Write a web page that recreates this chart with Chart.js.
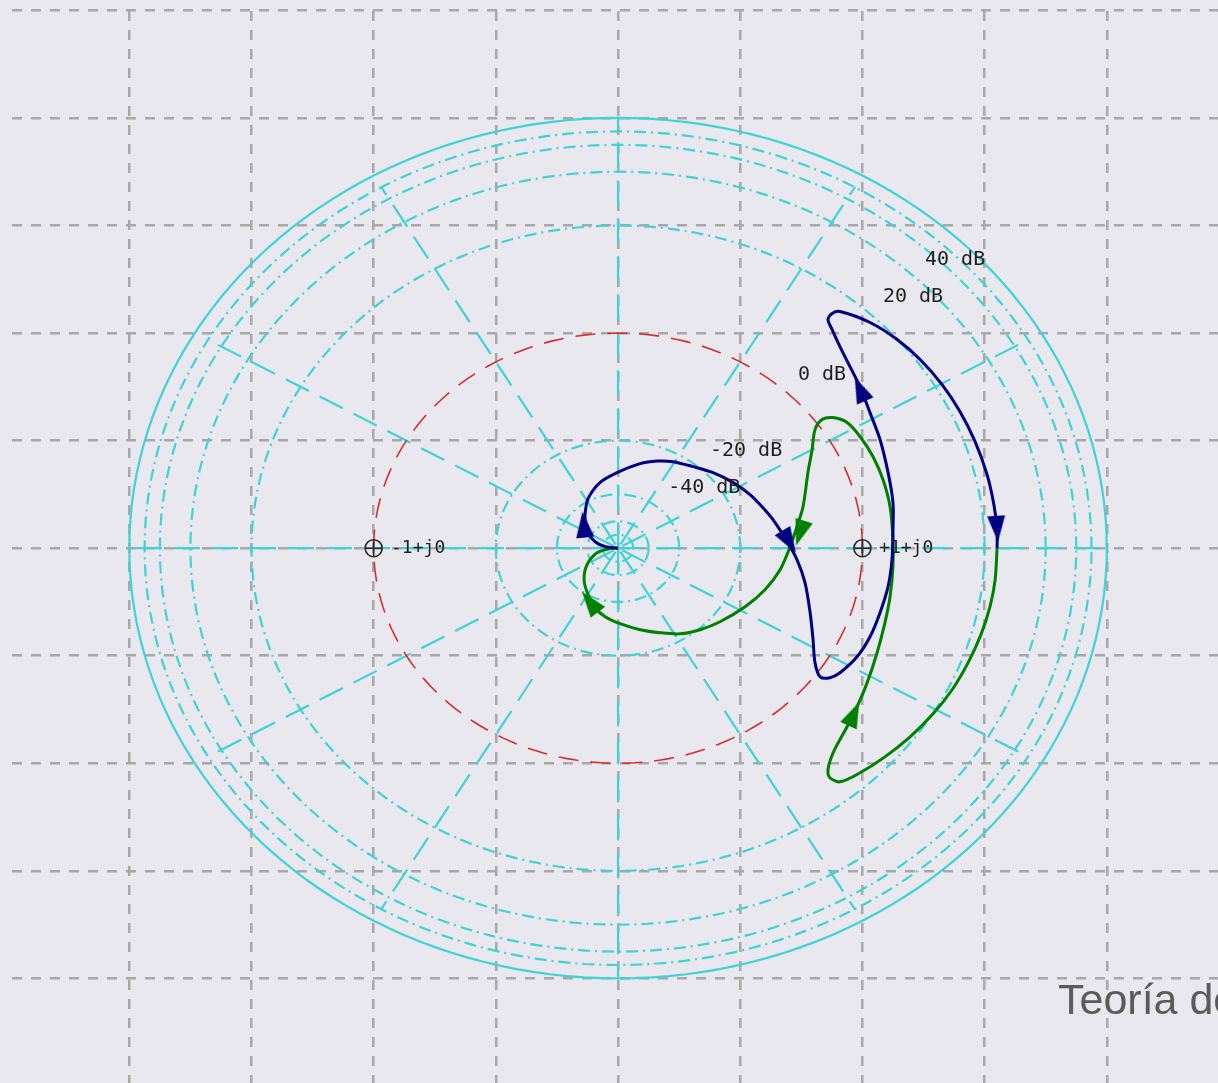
<!DOCTYPE html>
<html>
<head>
<meta charset="utf-8">
<title>Nyquist</title>
<script src="https://cdn.jsdelivr.net/npm/chart.js@4.4.1/dist/chart.umd.min.js"></script>
<style>
  html, body { margin: 0; padding: 0; background: #e8e8ee; overflow: hidden; }
  canvas { display: block; }
</style>
</head>
<body>
<canvas id="nyq" width="1218" height="1083"></canvas>
<script>
// Nyquist locus on a log-compressed polar grid: |G| is mapped to a radius,
// 0 dB is the unit circle and very large gains approach radius 2.

// visible window of the complex plane
const xRange = [-2.48, 2.455];
const yRange = [-2.486, 2.497];
const gridTicksX = [-2, -1.5, -1, -0.5, 0, 0.5, 1, 1.5, 2];
const gridTicksY = [-2, -1.5, -1, -0.5, 0, 0.5, 1, 1.5, 2, 2.5];

// magnitude rings (compressed radius) and radial spokes (degrees)
const ringRadius = [2.0, 1.9375, 1.875, 1.75, 1.5, 0.5, 0.25, 0.125, 0.0625];
const unitRing = 1.0;
const spokeAngles = [30, 60, 120, 150, 210, 240, 300, 330];
const axisAngles = [0, 90, 180, 270];

// positive-frequency branch
const posX = [0.0, -0.053, -0.094, -0.123, -0.135, -0.133, -0.121, -0.074, -0.004, 0.090,
  0.160, 0.225, 0.307, 0.389, 0.471, 0.540, 0.593, 0.634, 0.687, 0.732,
  0.765, 0.786, 0.798, 0.806, 0.827, 0.867, 0.908, 0.978, 1.031, 1.072,
  1.105, 1.121, 1.125, 1.125, 1.105, 1.072, 1.031, 0.990, 0.949, 0.908,
  0.876, 0.859, 0.876, 0.908, 1.031, 1.142, 1.236, 1.326, 1.399, 1.461,
  1.510, 1.538, 1.551, 1.551];
const posY = [0.0, 0.007, 0.030, 0.072, 0.133, 0.179, 0.235, 0.305, 0.351, 0.393,
  0.405, 0.402, 0.379, 0.351, 0.305, 0.249, 0.188, 0.133, 0.040, -0.053,
  -0.160, -0.300, -0.426, -0.533, -0.598, -0.602, -0.579, -0.505, -0.412, -0.300,
  -0.179, -0.053, 0.086, 0.212, 0.351, 0.505, 0.630, 0.751, 0.844, 0.937,
  1.016, 1.063, 1.091, 1.100, 1.049, 0.970, 0.877, 0.760, 0.635, 0.495,
  0.342, 0.202, 0.086, 0.0];

// negative-frequency branch
const negX = [1.551, 1.543, 1.522, 1.485, 1.432, 1.367, 1.289, 1.195, 1.092, 0.990,
  0.908, 0.867, 0.859, 0.880, 0.937, 0.978, 1.019, 1.060, 1.092,
  1.113, 1.125, 1.125, 1.113, 1.084, 1.043, 0.990, 0.937, 0.880, 0.835,
  0.806, 0.794, 0.777, 0.757, 0.732, 0.704, 0.663, 0.601, 0.520, 0.417,
  0.336, 0.254, 0.172, 0.090, 0.008, -0.053, -0.094, -0.123, -0.139, -0.127,
  -0.086, -0.033, 0.0];
const negY = [0.0, -0.147, -0.272, -0.402, -0.533, -0.658, -0.770, -0.877, -0.970, -1.044,
  -1.086, -1.067, -1.030, -0.951, -0.830, -0.737, -0.626, -0.486, -0.347,
  -0.226, -0.086, 0.040, 0.193, 0.319, 0.426, 0.519, 0.584, 0.607, 0.598,
  0.551, 0.458, 0.351, 0.193, 0.100, 0.007, -0.100, -0.193, -0.272, -0.342,
  -0.379, -0.398, -0.393, -0.379, -0.351, -0.319, -0.277, -0.216, -0.147, -0.077,
  -0.021, -0.002, 0.0];

// direction markers placed on each branch
const posArrowX = [-0.14, 0.70, 0.99, 1.551];
const posArrowY = [0.11, 0.03, 0.74, 0.09];
const negArrowX = [-0.115, 0.745, 0.965];
const negArrowY = [-0.25, 0.07, -0.77];

// critical points and their labels
const critX = [-1, 1];
const critY = [0, 0];
const critLabels = ['-1+j0', '+1+j0'];
const critLabelX = [-0.929, 1.068];

// magnitude ring labels
const dbLabels = ['40 dB', '20 dB', '0 dB', '-20 dB', '-40 dB'];
const dbLabelX = [1.256, 1.084, 0.736, 0.376, 0.205];
const dbLabelY = [1.342, 1.170, 0.807, 0.453, 0.281];

const footerText = 'Teoría de';

// ---------------------------------------------------------------------------
const zip = (xs, ys) => xs.map((x, i) => ({ x, y: ys[i] }));
const posPath = zip(posX, posY);
const negPath = zip(negX, negY);

function ringPoints(r) {
  const pts = [];
  for (let a = 0; a <= 360; a += 2) {
    const t = a * Math.PI / 180;
    pts.push({ x: r * Math.cos(t), y: r * Math.sin(t) });
  }
  return pts;
}
function spokePoints(deg, r0, r1) {
  const t = deg * Math.PI / 180;
  return [{ x: r0 * Math.cos(t), y: r0 * Math.sin(t) }, { x: r1 * Math.cos(t), y: r1 * Math.sin(t) }];
}

function arrowHead(color) {
  const c = document.createElement('canvas');
  c.width = 20; c.height = 26;
  const g = c.getContext('2d');
  g.fillStyle = color;
  g.beginPath();
  g.moveTo(10, 0); g.lineTo(19, 26); g.lineTo(1, 26);
  g.closePath(); g.fill();
  return c;
}

function headingAt(chart, path, pt) {
  const sx = chart.scales.x, sy = chart.scales.y;
  let best = 0, bd = Infinity;
  path.forEach((p, i) => {
    const d = (p.x - pt.x) ** 2 + (p.y - pt.y) ** 2;
    if (d < bd) { bd = d; best = i; }
  });
  const a = path[Math.max(best - 1, 0)], b = path[Math.min(best + 1, path.length - 1)];
  const dx = sx.getPixelForValue(b.x) - sx.getPixelForValue(a.x);
  const dy = sy.getPixelForValue(b.y) - sy.getPixelForValue(a.y);
  return Math.atan2(dy, dx) * 180 / Math.PI + 90;
}

const CYAN = '#3fd3d6';
const NAVY = '#000080';
const GREEN = '#008000';
const DASHDOT = [12, 5, 2, 5];

const datasets = [];

// arrows (drawn on top)
datasets.push({
  data: zip(posArrowX, posArrowY), showLine: false,
  pointStyle: arrowHead(NAVY), pointRadius: 10,
  rotation: c => c.type === 'data' ? headingAt(c.chart, posPath, c.raw) : 0
});
datasets.push({
  data: zip(negArrowX, negArrowY), showLine: false,
  pointStyle: arrowHead(GREEN), pointRadius: 10,
  rotation: c => c.type === 'data' ? headingAt(c.chart, negPath, c.raw) : 0
});
// branches
datasets.push({ data: posPath, showLine: true, borderColor: NAVY, borderWidth: 3, pointRadius: 0, tension: 0.3 });
datasets.push({ data: negPath, showLine: true, borderColor: GREEN, borderWidth: 3, pointRadius: 0, tension: 0.3 });
// critical point markers
datasets.push({ data: zip(critX, critY), showLine: false, pointStyle: 'circle', pointRadius: 8.5,
  borderColor: '#2a2a2a', backgroundColor: 'rgba(0,0,0,0)', borderWidth: 1.6 });
datasets.push({ data: zip(critX, critY), showLine: false, pointStyle: 'cross', pointRadius: 8.5,
  borderColor: '#2a2a2a', borderWidth: 1.6 });
// unit circle
datasets.push({ data: ringPoints(unitRing), showLine: true, borderColor: '#d32f2f', borderWidth: 1.6,
  borderDash: [20, 12], pointRadius: 0 });
// axes and spokes
axisAngles.forEach(a => datasets.push({ data: spokePoints(a, 0, 2.0), showLine: true, borderColor: CYAN,
  borderWidth: 2.2, borderDash: [26, 12], pointRadius: 0 }));
spokeAngles.forEach(a => datasets.push({ data: spokePoints(a, 0.02, 1.94), showLine: true, borderColor: CYAN,
  borderWidth: 2.2, borderDash: [26, 12], pointRadius: 0 }));
// magnitude rings
ringRadius.forEach((r, i) => datasets.push({ data: ringPoints(r), showLine: true, borderColor: CYAN,
  borderWidth: 2.2, borderDash: i === 0 ? [] : DASHDOT, pointRadius: 0 }));

const backdrop = {
  id: 'backdrop',
  beforeDraw(chart) {
    const { ctx, width, height } = chart;
    ctx.save();
    ctx.fillStyle = '#e8e8ee';
    ctx.fillRect(0, 0, width, height);
    ctx.restore();
  }
};

const labels = {
  id: 'labels',
  afterDatasetsDraw(chart) {
    const { ctx, scales: { x, y } } = chart;
    ctx.save();
    ctx.fillStyle = '#1e1e1e';
    ctx.textBaseline = 'middle';
    ctx.font = '20px "DejaVu Sans Mono"';
    dbLabels.forEach((t, i) => ctx.fillText(t, x.getPixelForValue(dbLabelX[i]), y.getPixelForValue(dbLabelY[i])));
    ctx.font = '18px "DejaVu Sans Mono"';
    critLabels.forEach((t, i) => ctx.fillText(t, x.getPixelForValue(critLabelX[i]), y.getPixelForValue(critY[i])));
    ctx.restore();
  },
  afterDraw(chart) {
    const { ctx } = chart;
    ctx.save();
    ctx.fillStyle = '#5b5b5b';
    ctx.font = '43px "Liberation Sans"';
    ctx.textBaseline = 'alphabetic';
    ctx.fillText(footerText, 1058, 1014);
    ctx.restore();
  }
};

const gridCommon = {
  color: '#a8a8a8', lineWidth: 2.5, drawTicks: false, borderDash: [10, 9]
};

new Chart(document.getElementById('nyq'), {
  type: 'scatter',
  data: { datasets },
  options: {
    responsive: false,
    animation: false,
    devicePixelRatio: 1,
    layout: { autoPadding: false, padding: { left: 12, top: 11, right: 0, bottom: 0 } },
    plugins: { legend: { display: false }, tooltip: { enabled: false } },
    elements: { point: { radius: 0 } },
    scales: {
      x: {
        type: 'linear', min: xRange[0], max: xRange[1],
        afterBuildTicks: s => { s.ticks = gridTicksX.map(v => ({ value: v })); },
        afterFit: s => { s.height = 0; },
        grid: gridCommon, border: { display: false, dash: [10, 9] },
        ticks: { display: false }
      },
      y: {
        type: 'linear', min: yRange[0], max: yRange[1],
        afterBuildTicks: s => { s.ticks = gridTicksY.map(v => ({ value: v })); },
        afterFit: s => { s.width = 0; },
        grid: gridCommon, border: { display: false, dash: [10, 9] },
        ticks: { display: false }
      }
    }
  },
  plugins: [backdrop, labels]
});
</script>
</body>
</html>
